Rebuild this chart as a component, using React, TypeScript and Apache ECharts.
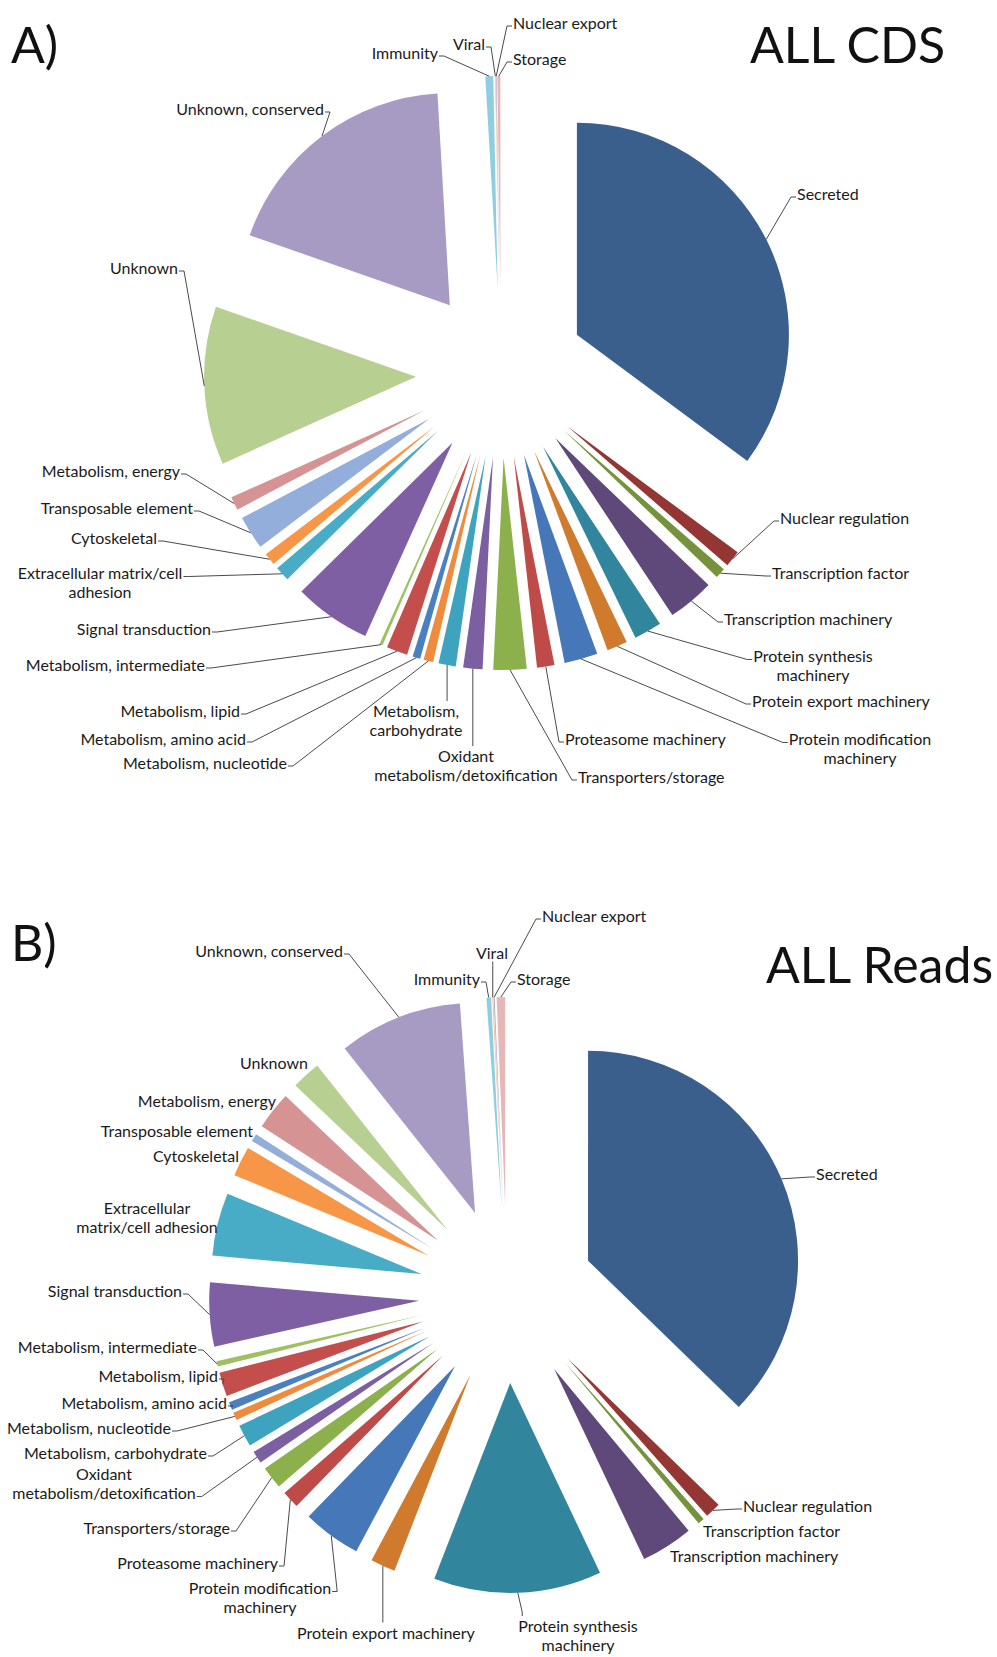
import React, { useEffect, useRef } from 'react';
import * as echarts from 'echarts';

const categories = [
  'Secreted', 'Nuclear regulation', 'Transcription factor', 'Transcription machinery',
  'Protein synthesis machinery', 'Protein export machinery', 'Protein modification machinery',
  'Proteasome machinery', 'Transporters/storage', 'Oxidant metabolism/detoxification',
  'Metabolism, carbohydrate', 'Metabolism, nucleotide', 'Metabolism, amino acid',
  'Metabolism, lipid', 'Metabolism, intermediate', 'Signal transduction',
  'Extracellular matrix/cell adhesion', 'Cytoskeletal', 'Transposable element',
  'Metabolism, energy', 'Unknown', 'Unknown, conserved', 'Immunity', 'Viral',
  'Nuclear export', 'Storage',
];

const colors = [
  '#3B5F8C', '#943634', '#76923C', '#5F497A', '#31859C', '#D07A2E', '#4677B8',
  '#BE4B48', '#8CB04C', '#7C5FA0', '#3DA3BF', '#F08A3C', '#4A7FC0', '#C44E4B',
  '#9DC060', '#7F5FA3', '#48ACC7', '#F79646', '#93AEDA', '#D69394', '#B8CF92',
  '#A89BC3', '#8FCDE0', '#F9C08F', '#B3A2C7', '#E5B8B7',
];

// A) ALL CDS (percent of total)
const valuesCDS = [
  35.2, 1.24, 0.78, 3.55, 2.12, 1.56, 2.55, 1.33, 2.53, 1.47, 1.32, 0.74, 0.59,
  1.61, 0.24, 5.89, 1.13, 0.93, 2.57, 1.03, 12.1, 18.75, 0.6, 0.05, 0.05, 0.23,
];

// B) ALL Reads (percent of total)
const valuesReads = [
  37.2, 1.2, 0.5, 4.0, 12.9, 1.91, 4.48, 1.34, 1.73, 0.96, 1.7, 0.6, 0.6, 1.85,
  0.42, 4.9, 4.84, 2.3, 0.6, 2.93, 2.24, 9.5, 0.35, 0.08, 0.07, 0.65,
];

const labelsCDS = [
  'Secreted', 'Nuclear regulation', 'Transcription factor', 'Transcription machinery',
  'Protein synthesis\nmachinery', 'Protein export machinery', 'Protein modification\nmachinery',
  'Proteasome machinery', 'Transporters/storage', 'Oxidant\nmetabolism/detoxification',
  'Metabolism,\ncarbohydrate', 'Metabolism, nucleotide', 'Metabolism, amino acid',
  'Metabolism, lipid', 'Metabolism, intermediate', 'Signal transduction',
  'Extracellular matrix/cell\nadhesion', 'Cytoskeletal', 'Transposable element',
  'Metabolism, energy', 'Unknown', 'Unknown, conserved', 'Immunity', 'Viral',
  'Nuclear export', 'Storage',
];

const labelsReads = [
  'Secreted', 'Nuclear regulation', 'Transcription factor', 'Transcription machinery',
  'Protein synthesis\nmachinery', 'Protein export machinery', 'Protein modification\nmachinery',
  'Proteasome machinery', 'Transporters/storage', 'Oxidant\nmetabolism/detoxification',
  'Metabolism, carbohydrate', 'Metabolism, nucleotide', 'Metabolism, amino acid',
  'Metabolism, lipid', 'Metabolism, intermediate', 'Signal transduction',
  'Extracellular\nmatrix/cell adhesion', 'Cytoskeletal', 'Transposable element',
  'Metabolism, energy', 'Unknown', 'Unknown, conserved', 'Immunity', 'Viral',
  'Nuclear export', 'Storage',
];

// label anchor positions [x, y, align]
const labelPosCDS: [number, number, string][] = [
  [797, 193, 'left'], [780, 517, 'left'], [772, 572, 'left'], [724, 618, 'left'],
  [813, 665, 'center'], [752, 700, 'left'], [860, 748, 'center'], [565, 738, 'left'],
  [578, 776, 'left'], [466, 765, 'center'], [416, 720, 'center'], [287, 762, 'right'],
  [246, 738, 'right'], [240, 710, 'right'], [205, 664, 'right'], [211, 628, 'right'],
  [100, 582, 'center'], [157, 537, 'right'], [193, 507, 'right'], [180, 470, 'right'],
  [178, 267, 'right'], [324, 108, 'right'], [438, 52, 'right'], [485, 43, 'right'],
  [513, 22, 'left'], [513, 58, 'left'],
];

const labelPosReads: [number, number, string][] = [
  [816, 1173, 'left'], [743, 1505, 'left'], [703, 1530, 'left'], [670, 1555, 'left'],
  [578, 1635, 'center'], [297, 1632, 'left'], [260, 1597, 'center'], [278, 1562, 'right'],
  [230, 1527, 'right'], [104, 1483, 'center'], [207, 1452, 'right'], [171, 1427, 'right'],
  [227, 1402, 'right'], [218, 1375, 'right'], [197, 1346, 'right'], [182, 1290, 'right'],
  [147, 1217, 'center'], [239, 1155, 'right'], [253, 1130, 'right'], [276, 1100, 'right'],
  [308, 1062, 'right'], [343, 950, 'right'], [480, 978, 'right'], [492, 952, 'center'],
  [542, 915, 'left'], [517, 978, 'left'],
];

// where the leader line meets the label: L left, R right, R2 right of last line,
// T top, B bottom, N no leader line
const anchorsCDS = [
  'L', 'L', 'L', 'L', 'L', 'L', 'L', 'L', 'L', 'T', 'T', 'R', 'R', 'R', 'R', 'R',
  'R', 'R', 'R', 'R', 'R', 'R', 'R', 'R', 'L', 'L',
];
const anchorsReads = [
  'L', 'L', 'N', 'N', 'T', 'T', 'R', 'R', 'R', 'R2', 'R', 'R', 'R', 'R', 'R', 'R',
  'N', 'N', 'N', 'N', 'N', 'R', 'R', 'B', 'L', 'L',
];

const FONT = 'Lato, "Open Sans", sans-serif';
const FONT_SIZE = 16;
const LINE_H = 19;

let measureCtx: CanvasRenderingContext2D | null = null;
function textWidth(s: string): number {
  if (!measureCtx) measureCtx = document.createElement('canvas').getContext('2d');
  if (!measureCtx) return s.length * 8;
  measureCtx.font = `${FONT_SIZE}px Lato`;
  return measureCtx.measureText(s).width;
}

function makeLabelLayout(labels: string[], pos: [number, number, string][], anchors: string[]) {
  return (params: any) => {
    const i = params.dataIndex;
    const [x, y, align] = pos[i];
    const res: any = { x, y, align, verticalAlign: 'middle', hideOverlap: false };
    const mode = anchors[i];
    const pts = params.labelLinePoints;
    if (mode === 'N' || !pts || !pts[0]) return res;
    const tip = pts[0];
    const lines = labels[i].split('\n');
    const h = LINE_H * lines.length;
    const top = y - h / 2;
    const leftOf = (w: number) => (align === 'left' ? x : align === 'right' ? x - w : x - w / 2);
    let ax: number, ay: number, sx: number, sy: number;
    if (mode === 'L' || mode === 'R' || mode === 'R2') {
      const li = mode === 'R2' ? lines.length - 1 : 0;
      const w = textWidth(lines[li]);
      const l = leftOf(w);
      ay = top + LINE_H * (li + 0.5) + 4;
      if (mode === 'L') {
        ax = l - 1;
        sx = ax - 5;
      } else {
        ax = l + w + 1;
        sx = ax + 5;
      }
      sy = ay;
    } else {
      const w = Math.max(...lines.map(textWidth));
      const l = leftOf(w);
      ax = Math.min(Math.max(tip[0], l + 4), l + w - 4);
      ay = mode === 'T' ? top : top + h;
      sx = ax;
      sy = mode === 'T' ? ay - 4 : ay + 4;
    }
    res.labelLinePoints = [[tip[0], tip[1]], [sx, sy], [ax, ay]];
    return res;
  };
}

// visible, exploded pie
function slicesSeries(name: string, values: number[], center: [number, number], radius: number, offset: number) {
  return {
    type: 'pie',
    name,
    z: 2,
    center,
    radius,
    startAngle: 90,
    clockwise: true,
    selectedMode: 'multiple',
    selectedOffset: offset,
    avoidLabelOverlap: false,
    emphasis: { disabled: true },
    itemStyle: { borderWidth: 0 },
    label: { show: false },
    labelLine: { show: false },
    data: values.map((v, i) => ({
      name: categories[i],
      value: v,
      selected: true,
      itemStyle: { color: colors[i] },
    })),
  };
}

// transparent pie whose outer arc passes through the exploded slice tips; carries labels
function labelSeries(
  name: string,
  values: number[],
  labels: string[],
  pos: [number, number, string][],
  anchors: string[],
  center: [number, number],
  radius: number,
) {
  return {
    type: 'pie',
    name,
    z: 3,
    silent: true,
    center,
    radius,
    startAngle: 90,
    clockwise: true,
    avoidLabelOverlap: false,
    emphasis: { disabled: true },
    itemStyle: { color: 'rgba(0,0,0,0)', borderWidth: 0 },
    label: {
      show: true,
      position: 'outside',
      color: '#1a1a1a',
      fontFamily: FONT,
      fontSize: FONT_SIZE,
      lineHeight: LINE_H,
      formatter: (p: any) => labels[p.dataIndex],
    },
    labelLine: {
      show: true,
      length: 10,
      length2: 6,
      smooth: false,
      lineStyle: { color: '#4a4a4a', width: 1 },
    },
    labelLayout: makeLabelLayout(labels, pos, anchors),
    data: values.map((v, i) => ({
      name: categories[i],
      value: v,
      labelLine: anchors[i] === 'N' ? { show: false } : undefined,
    })),
  };
}

const R_A = 212;
const D_A = 85;
const R_B = 210;
const D_B = 88;

export default function App() {
  const ref = useRef<HTMLDivElement>(null);
  useEffect(() => {
    if (!ref.current) return;
    const chart = echarts.init(ref.current, null, { renderer: 'svg' });
    const cA: [number, number] = [501, 373];
    const cB: [number, number] = [507, 1295];
    const titleFont = `50px ${FONT}`;
    chart.setOption({
      animation: false,
      backgroundColor: '#fff',
      graphic: [
        { type: 'text', left: 11, top: 19, style: { text: 'A)', font: titleFont, fill: '#111' } },
        { type: 'text', left: 750, top: 19, style: { text: 'ALL CDS', font: titleFont, fill: '#111' } },
        { type: 'text', left: 11, top: 917, style: { text: 'B)', font: titleFont, fill: '#111' } },
        { type: 'text', left: 766, top: 939, style: { text: 'ALL Reads', font: titleFont, fill: '#111' } },
      ],
      series: [
        slicesSeries('ALL CDS', valuesCDS, cA, R_A, D_A),
        labelSeries('ALL CDS labels', valuesCDS, labelsCDS, labelPosCDS, anchorsCDS, cA, R_A + D_A),
        slicesSeries('ALL Reads', valuesReads, cB, R_B, D_B),
        labelSeries('ALL Reads labels', valuesReads, labelsReads, labelPosReads, anchorsReads, cB, R_B + D_B),
      ],
    });
    return () => chart.dispose();
  }, []);
  return (
    <div
      ref={ref}
      style={{ position: 'absolute', left: 0, top: 0, width: 997, height: 1657, background: '#fff' }}
    />
  );
}
